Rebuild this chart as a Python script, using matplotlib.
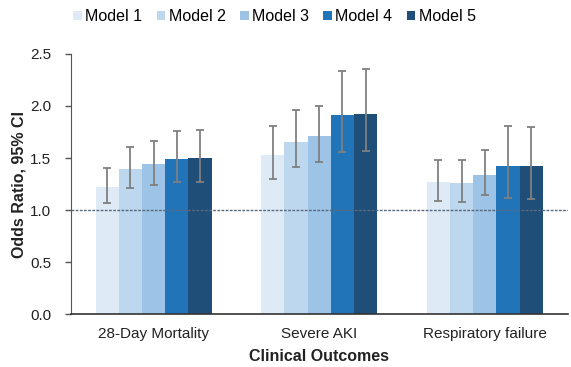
import matplotlib.pyplot as plt
import numpy as np

plt.rcParams['font.family'] = ['Liberation Sans', 'DejaVu Sans']

outcomes = ['28-Day Mortality', 'Severe AKI', 'Respiratory failure']
models = ['Model 1', 'Model 2', 'Model 3', 'Model 4', 'Model 5']
colors = ['#deebf7', '#bdd7ee', '#9dc3e6', '#2274b8', '#1f4e79']

# odds ratios per model, one value per outcome
odds = [
    [1.22, 1.53, 1.27],
    [1.39, 1.65, 1.26],
    [1.44, 1.71, 1.34],
    [1.49, 1.91, 1.42],
    [1.50, 1.92, 1.42],
]
ci_low = [
    [1.07, 1.30, 1.09],
    [1.21, 1.41, 1.08],
    [1.24, 1.46, 1.14],
    [1.27, 1.56, 1.12],
    [1.27, 1.57, 1.11],
]
ci_high = [
    [1.40, 1.81, 1.48],
    [1.61, 1.96, 1.48],
    [1.66, 2.00, 1.58],
    [1.76, 2.34, 1.81],
    [1.77, 2.36, 1.80],
]

fig = plt.figure(figsize=(5.71, 3.67), dpi=100)
ax = fig.add_axes([0.124, 0.144, 0.87, 0.709])

x = np.arange(len(outcomes))
w = 0.14
for i, m in enumerate(models):
    pos = x + (i - 2) * w
    o = np.array(odds[i])
    err = [o - np.array(ci_low[i]), np.array(ci_high[i]) - o]
    ax.bar(pos, o, width=w, color=colors[i], label=m, zorder=2)
    ax.errorbar(pos, o, yerr=err, fmt='none', ecolor='#808080',
                elinewidth=1.3, capsize=3, capthick=1.3, zorder=3)

ax.axhline(1.0, color='#5a6a7e', linestyle=(0, (2, 1)), linewidth=1, zorder=4)

ax.set_xlim(-0.5, 2.5)
ax.set_ylim(0, 2.5)
ax.set_yticks(np.arange(0, 2.51, 0.5))
ax.set_yticklabels(['%.1f' % v for v in np.arange(0, 2.51, 0.5)])
ax.set_xticks(x)
ax.set_xticklabels(outcomes)
ax.tick_params(axis='x', length=0, labelsize=11, colors='#222222', pad=9)
ax.tick_params(axis='y', direction='out', length=4, labelsize=11, width=1,
               colors='#555555', labelcolor='#222222', pad=10)

for s in ['top', 'right']:
    ax.spines[s].set_visible(False)
ax.spines['left'].set_color('#555555')
ax.spines['bottom'].set_color('#333333')
ax.spines['bottom'].set_linewidth(1.2)

ax.set_ylabel('Odds Ratio, 95% CI', fontsize=11.5, fontweight='bold', color='#222222',
              labelpad=3)
ax.set_xlabel('Clinical Outcomes', fontsize=11.5, fontweight='bold', color='#222222',
              labelpad=6)

ax.legend(loc='lower center', bbox_to_anchor=(0.41, 1.09), ncol=5, frameon=False,
          fontsize=11.5, handlelength=0.55, handleheight=0.55, handletextpad=0.2,
          columnspacing=0.9, borderaxespad=0)

fig.savefig('out.png', dpi=100)
